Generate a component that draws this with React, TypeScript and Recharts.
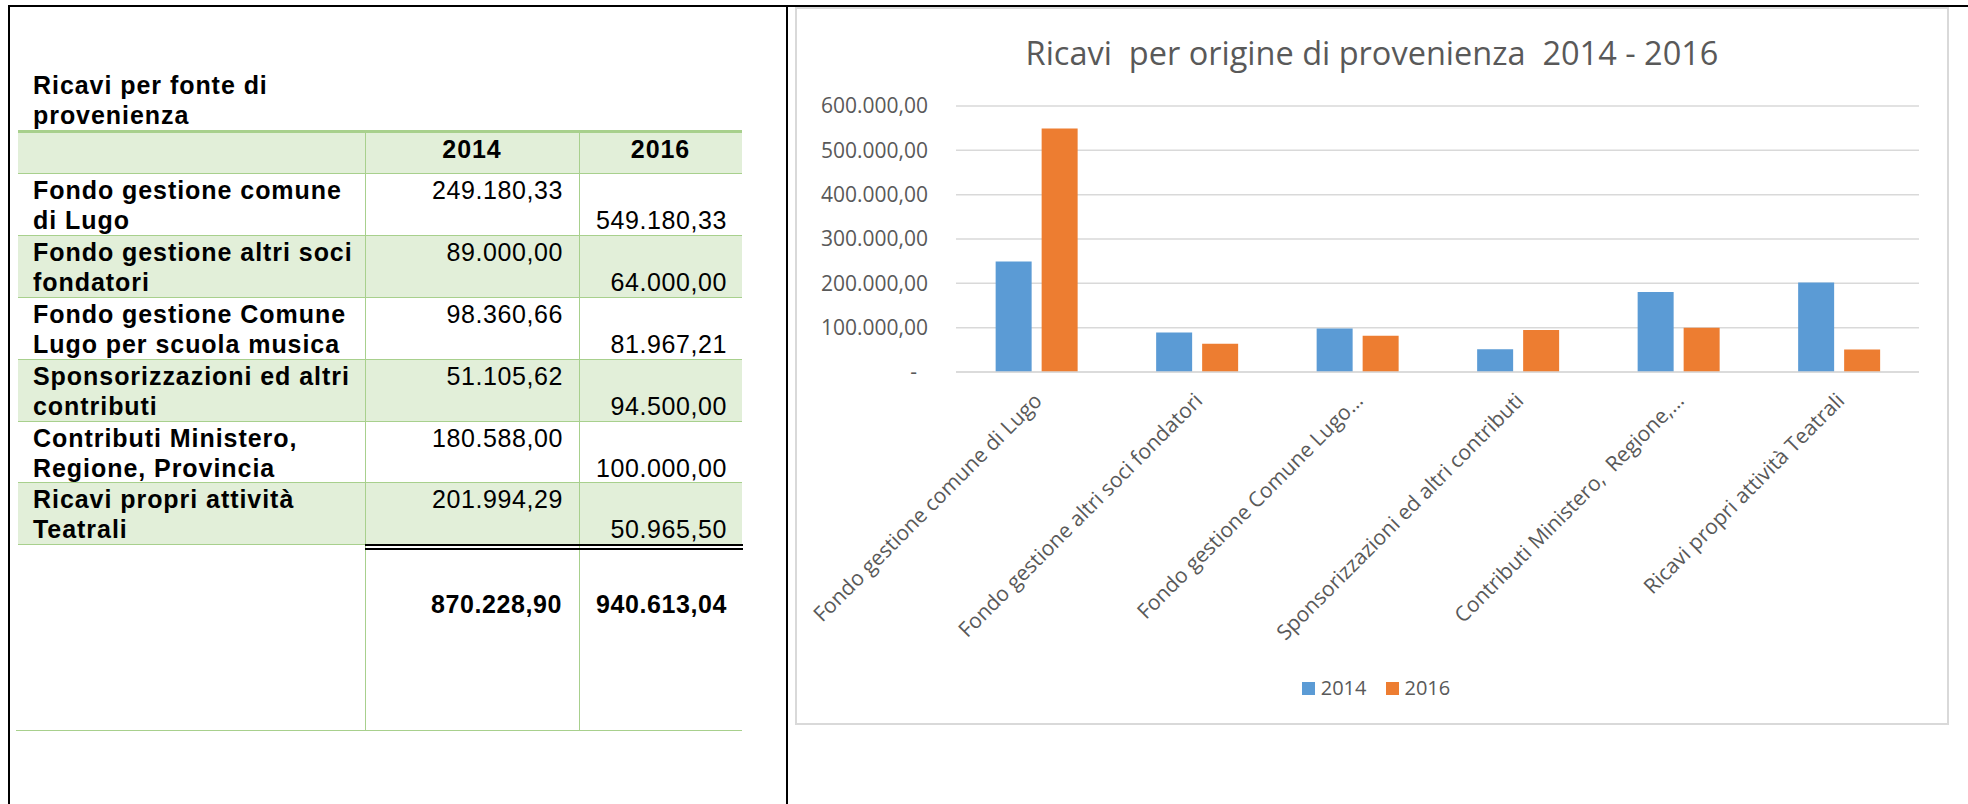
import React from "react";
import { BarChart, Bar, XAxis, YAxis, CartesianGrid, Legend } from "recharts";

// ---------- data ----------
const years = ["2014", "2016"];
const tableLabels: string[][] = [
  ["Fondo gestione comune", "di Lugo"],
  ["Fondo gestione altri soci", "fondatori"],
  ["Fondo gestione Comune", "Lugo per scuola musica"],
  ["Sponsorizzazioni ed altri", "contributi"],
  ["Contributi Ministero,", "Regione, Provincia"],
  ["Ricavi propri attività", "Teatrali"],
];
const chartLabels = [
  "Fondo gestione comune di Lugo",
  "Fondo gestione altri soci fondatori",
  "Fondo gestione Comune Lugo…",
  "Sponsorizzazioni ed altri contributi",
  "Contributi Ministero,  Regione,…",
  "Ricavi propri attività Teatrali",
];
const values2014 = [249180.33, 89000.0, 98360.66, 51105.62, 180588.0, 201994.29];
const values2016 = [549180.33, 64000.0, 81967.21, 94500.0, 100000.0, 50965.5];
const yTicks = [0, 100000, 200000, 300000, 400000, 500000, 600000];

const chartTitle = "Ricavi  per origine di provenienza  2014 - 2016";
const tableTitle = ["Ricavi per fonte di", "provenienza"];

const data = chartLabels.map((label, i) => ({
  label,
  v2014: values2014[i],
  v2016: values2016[i],
}));

// ---------- helpers ----------
function fmtIt(v: number): string {
  const fixed = v.toFixed(2);
  const [intPart, dec] = fixed.split(".");
  const grouped = intPart.replace(/\B(?=(\d{3})+(?!\d))/g, ".");
  return grouped + "," + dec;
}
const fmtTick = (v: number) => (v === 0 ? "-" : fmtIt(v));

const GRAY = "#595959";
const CHART_FONT = "'Open Sans', 'Noto Sans', sans-serif";
const TABLE_FONT = "'Liberation Sans', Arial, sans-serif";
const GREEN_FILL = "#E2EFD9";
const GREEN_LINE = "#A8D08D";

const YTick = (props: any) => {
  const { x, y, payload } = props;
  const v = payload.value;
  return (
    <text
      x={v === 0 ? x - 11 : x}
      y={y}
      dy="0.355em"
      textAnchor="end"
      fill={GRAY}
      fontSize={21}
      fontFamily={CHART_FONT}
    >
      {fmtTick(v)}
    </text>
  );
};

const XTick = (props: any) => {
  const { x, y, payload } = props;
  const ax = x + 7;
  const ay = y + 22;
  return (
    <text
      x={ax}
      y={ay}
      textAnchor="end"
      transform={`rotate(-45 ${ax} ${ay})`}
      fill={GRAY}
      fontSize={21}
      fontFamily={CHART_FONT}
      style={{ whiteSpace: "pre" }}
    >
      {payload.value}
    </text>
  );
};

const renderLegend = (props: any) => {
  const { payload } = props;
  return (
    <div
      style={{
        display: "flex",
        justifyContent: "center",
        alignItems: "center",
        height: 30,
        paddingLeft: 8,
        fontFamily: CHART_FONT,
        fontSize: 20,
        color: GRAY,
      }}
    >
      {(payload || []).map((p: any, i: number) => (
        <div
          key={i}
          style={{ display: "flex", alignItems: "center", marginLeft: i === 0 ? 0 : 19 }}
        >
          <div style={{ width: 13, height: 13, background: p.color, marginRight: 6 }} />
          <span style={{ lineHeight: "30px" }}>{p.value}</span>
        </div>
      ))}
    </div>
  );
};

// ---------- table layout ----------
const rowTops = [173, 235, 297, 359, 421, 482, 544];
const TL = 18;
const TR = 742;
const C1 = 365;
const C2 = 579;

const abs = (s: React.CSSProperties): React.CSSProperties => ({ position: "absolute", ...s });

const textBase: React.CSSProperties = {
  fontFamily: TABLE_FONT,
  fontSize: 25,
  letterSpacing: 0.6,
  lineHeight: "30px",
  height: 30,
  color: "#000",
  whiteSpace: "nowrap",
};
const boldText: React.CSSProperties = { ...textBase, fontWeight: "bold", letterSpacing: 0.95 };

function Table() {
  const total2014 = values2014.reduce((a, b) => a + b, 0);
  const total2016 = values2016.reduce((a, b) => a + b, 0);
  const els: React.ReactNode[] = [];

  // title
  tableTitle.forEach((t, i) => {
    els.push(
      <div key={"tt" + i} style={{ ...abs({ left: 33, top: 70 + 30 * i }), ...boldText }}>
        {t}
      </div>
    );
  });

  // header fill + top thick line
  els.push(<div key="hfill" style={abs({ left: TL, top: 133, width: TR - TL, height: 40, background: GREEN_FILL })} />);
  els.push(<div key="hline" style={abs({ left: TL, top: 130, width: TR - TL, height: 3, background: GREEN_LINE })} />);

  // row fills
  for (let r = 0; r < 6; r++) {
    if (r % 2 === 1) {
      els.push(
        <div
          key={"rf" + r}
          style={abs({ left: TL, top: rowTops[r], width: TR - TL, height: rowTops[r + 1] - rowTops[r], background: GREEN_FILL })}
        />
      );
    }
  }

  // horizontal lines
  rowTops.forEach((y, i) => {
    els.push(<div key={"hl" + i} style={abs({ left: TL, top: y, width: TR - TL, height: 1, background: GREEN_LINE })} />);
  });
  els.push(<div key="hlb" style={abs({ left: 16, top: 730, width: TR - 16, height: 1, background: GREEN_LINE })} />);

  // vertical lines
  [C1, C2].forEach((x, i) => {
    els.push(<div key={"vl" + i} style={abs({ left: x, top: 133, width: 1, height: 730 - 133, background: GREEN_LINE })} />);
  });

  // double black line
  els.push(<div key="dl1" style={abs({ left: C1, top: 544, width: TR - C1 + 1, height: 2, background: "#000" })} />);
  els.push(<div key="dl2" style={abs({ left: C1, top: 548, width: TR - C1 + 1, height: 2, background: "#000" })} />);

  // header text
  els.push(
    <div key="hy0" style={{ ...abs({ left: C1, top: 134, width: C2 - C1, textAlign: "center" }), ...boldText }}>
      {years[0]}
    </div>
  );
  els.push(
    <div key="hy1" style={{ ...abs({ left: C2, top: 134, width: TR - C2, textAlign: "center" }), ...boldText }}>
      {years[1]}
    </div>
  );

  // rows text
  for (let r = 0; r < 6; r++) {
    const top = rowTops[r] + 2;
    tableLabels[r].forEach((line, li) => {
      els.push(
        <div key={`lb${r}-${li}`} style={{ ...abs({ left: 33, top: top + 30 * li }), ...boldText }}>
          {line}
        </div>
      );
    });
    els.push(
      <div key={`v14-${r}`} style={{ ...abs({ left: C1, top, width: 563 - C1, textAlign: "right" }), ...textBase }}>
        {fmtIt(values2014[r])}
      </div>
    );
    els.push(
      <div key={`v16-${r}`} style={{ ...abs({ left: C2, top: top + 30, width: 727 - C2, textAlign: "right" }), ...textBase }}>
        {fmtIt(values2016[r])}
      </div>
    );
  }

  // totals
  els.push(
    <div key="t14" style={{ ...abs({ left: C1, top: 589, width: 562 - C1, textAlign: "right" }), ...boldText, letterSpacing: 0.6 }}>
      {fmtIt(total2014)}
    </div>
  );
  els.push(
    <div key="t16" style={{ ...abs({ left: C2, top: 589, width: 727 - C2, textAlign: "right" }), ...boldText, letterSpacing: 0.6 }}>
      {fmtIt(total2016)}
    </div>
  );

  return <>{els}</>;
}

export default function App() {
  return (
    <div style={abs({ left: 0, top: 0, width: 1968, height: 804, background: "#fff", overflow: "hidden" })}>
      {/* frame */}
      <div style={abs({ left: 8, top: 5, width: 1960, height: 2, background: "#000" })} />
      <div style={abs({ left: 8, top: 5, width: 2, height: 799, background: "#000" })} />
      <div style={abs({ left: 786, top: 5, width: 2, height: 799, background: "#000" })} />

      <Table />

      {/* chart panel */}
      <div
        style={abs({
          left: 795,
          top: 7,
          width: 1154,
          height: 718,
          border: "2px solid #D9D9D9",
          boxSizing: "border-box",
        })}
      />
      <div
        style={abs({
          left: 796,
          top: 37,
          width: 1152,
          textAlign: "center",
          fontFamily: CHART_FONT,
          fontSize: 32.5,
          lineHeight: "32px",
          color: GRAY,
          whiteSpace: "pre",
        })}
      >
        {chartTitle}
      </div>
      <div style={abs({ left: 796, top: 7 })}>
        <BarChart
          width={1152}
          height={717}
          data={data}
          margin={{ top: 99, right: 29, left: 0, bottom: 21 }}
          barCategoryGap="24.7%"
          barGap={10}
        >
          <CartesianGrid vertical={false} stroke="#D9D9D9" strokeWidth={1.5} />
          <XAxis
            dataKey="label"
            interval={0}
            height={301}
            tick={(p: any) => <XTick {...p} />}
            axisLine={{ stroke: "#D9D9D9", strokeWidth: 1.5 }}
            tickLine={false}
          />
          <YAxis
            width={160}
            domain={[0, 600000]}
            ticks={yTicks}
            interval={0}
            tick={(p: any) => <YTick {...p} />}
            axisLine={false}
            tickLine={false}
            tickMargin={22}
          />
          <Bar dataKey="v2014" name={years[0]} fill="#5B9BD5" isAnimationActive={false} />
          <Bar dataKey="v2016" name={years[1]} fill="#ED7D31" isAnimationActive={false} />
          <Legend
            verticalAlign="bottom"
            content={renderLegend}
            wrapperStyle={{ left: 0, width: 1152 }}
          />
        </BarChart>
      </div>
    </div>
  );
}
